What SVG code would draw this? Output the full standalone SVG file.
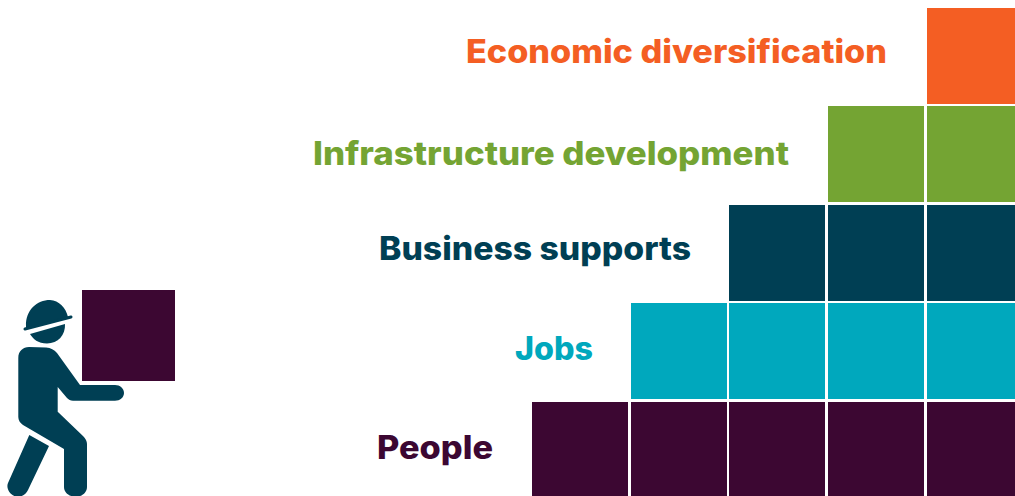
<svg xmlns="http://www.w3.org/2000/svg" width="1015" height="496" viewBox="0 0 1015 496">
<style>
.o{fill:#F45E23}.g{fill:#74A433}.d{fill:#003F54}.c{fill:#00A8BD}.p{fill:#3C0732}
text{font-family:"Inter","Liberation Sans",sans-serif;font-weight:800;font-size:32px}
</style>
<rect width="1015" height="496" fill="#fff"/>
<g id="row-economic-diversification">
<text class="o" x="466" y="63" textLength="421" lengthAdjust="spacingAndGlyphs">Economic diversification</text>
<rect class="o" x="927" y="8" width="88" height="96"/>
</g>
<g id="row-infrastructure-development">
<text class="g" x="313" y="165" textLength="476" lengthAdjust="spacingAndGlyphs">Infrastructure development</text>
<rect class="g" x="828" y="106" width="96" height="96"/>
<rect class="g" x="927" y="106" width="88" height="96"/>
</g>
<g id="row-business-supports">
<text class="d" x="379" y="260" textLength="312" lengthAdjust="spacingAndGlyphs">Business supports</text>
<rect class="d" x="729" y="205" width="96" height="96"/>
<rect class="d" x="828" y="205" width="96" height="96"/>
<rect class="d" x="927" y="205" width="88" height="96"/>
</g>
<g id="row-jobs">
<text class="c" x="515" y="360" textLength="78" lengthAdjust="spacingAndGlyphs">Jobs</text>
<rect class="c" x="631" y="303" width="96" height="96"/>
<rect class="c" x="729" y="303" width="96" height="96"/>
<rect class="c" x="828" y="303" width="96" height="96"/>
<rect class="c" x="927" y="303" width="88" height="96"/>
</g>
<g id="row-people">
<text class="p" x="377" y="459" textLength="116" lengthAdjust="spacingAndGlyphs">People</text>
<rect class="p" x="532" y="402" width="96" height="94"/>
<rect class="p" x="631" y="402" width="96" height="94"/>
<rect class="p" x="729" y="402" width="96" height="94"/>
<rect class="p" x="828" y="402" width="96" height="94"/>
<rect class="p" x="927" y="402" width="88" height="94"/>
</g>
<g id="worker">
<rect class="p" x="82" y="290" width="93" height="91"/>
<path class="d" d="M26,326C25.500,310 37,300 50,300C59,300.500 66,308 68,317L26,329Z"/>
<path d="M25,329L71,317" stroke="#003F54" stroke-width="3" stroke-linecap="round" fill="none"/>
<path class="d" d="M30,334L65,324C65.500,335 58,343.500 47,343.500C38,343.500 33,339 30,334Z"/>
<path class="d" d="M18.300,358C18.300,351 23,347 29,347L46,347.500C51,348 54,349.500 57,353L80,385H115C120,385 124,388.500 124,393C124,397.500 120,400.700 115,400.700H73C70.500,400.700 68.500,399.500 67,398L57.700,387V411.700L83,436C85.700,439 87,441 87,444V487C87,492.500 82,496.700 76,496.700C69,496.700 64,492.500 64,487V449L23,425C20,423 18.300,420 18.300,417Z"/>
<path class="d" d="M29.300,435L49,446L28,490C26,494.500 22,496.700 18,496.700C11,496.700 5.500,489 8,483Z"/>
</g>
</svg>
